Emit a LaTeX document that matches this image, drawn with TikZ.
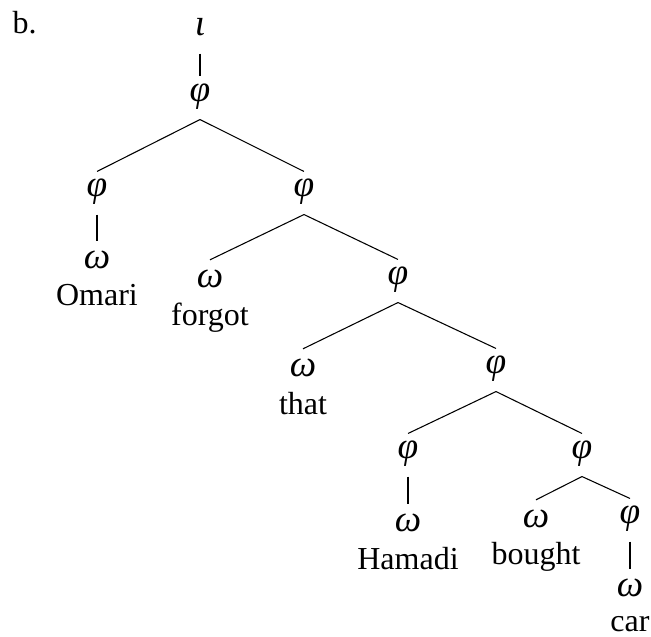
\documentclass[tikz,border=0pt]{standalone}
\usepackage{fontspec}
\setmainfont{Liberation Serif}
\usepackage{tikz}

\begin{document}
\begin{tikzpicture}[
    x=0.375pt, y=-0.375pt,
    font=\fontsize{12}{14}\selectfont,
    cat/.style={anchor=base, inner sep=0pt, text height=9pt, text depth=6.75pt, font=\fontsize{14}{16}\selectfont\itshape},
    wcat/.style={cat, text height=10pt},
    word/.style={anchor=base, inner sep=0pt}
]
    \useasboundingbox (0,0) rectangle (651,636);

    % Label
    \node[anchor=base west, inner sep=0pt] (ex) at (12,33) {b.};

    % Root
    \node[cat] (iota) at (200,35) {ι};
    \node[cat] (p0) at (200,101) {φ};

    % Omari
    \node[cat] (p1) at (97,196) {φ};
    \node[wcat] (w1) at (97,268) {ω};
    \node[word] (omari) at (97,305) {Omari};

    % forgot
    \node[cat] (p2) at (304,196) {φ};
    \node[wcat] (w2) at (210,287) {ω};
    \node[word] (forgot) at (210,325) {forgot};

    % that
    \node[cat] (p3) at (398,284) {φ};
    \node[wcat] (w3) at (303,376) {ω};
    \node[word] (that) at (303,414) {that};

    % Hamadi
    \node[cat] (p4) at (496,373) {φ};
    \node[cat] (p5) at (408,458) {φ};
    \node[wcat] (w5) at (408,531) {ω};
    \node[word] (hamadi) at (408,569) {Hamadi};

    % bought car
    \node[cat] (p6) at (582,458) {φ};
    \node[wcat] (w6) at (536,527) {ω};
    \node[word] (bought) at (536,564) {bought};
    \node[cat] (p7) at (630,523) {φ};
    \node[wcat] (w7) at (630,596) {ω};
    \node[word] (car) at (630,631) {car};

    % Branches
    \draw (iota.south) -- (p0.north);
    \draw (p0.south) -- (p1.north);
    \draw (p0.south) -- (p2.north);
    \draw (p1.south) -- (w1.north);
    \draw (p2.south) -- (w2.north);
    \draw (p2.south) -- (p3.north);
    \draw (p3.south) -- (w3.north);
    \draw (p3.south) -- (p4.north);
    \draw (p4.south) -- (p5.north);
    \draw (p4.south) -- (p6.north);
    \draw (p5.south) -- (w5.north);
    \draw (p6.south) -- (w6.north);
    \draw (p6.south) -- (p7.north);
    \draw (p7.south) -- (w7.north);
\end{tikzpicture}
\end{document}
